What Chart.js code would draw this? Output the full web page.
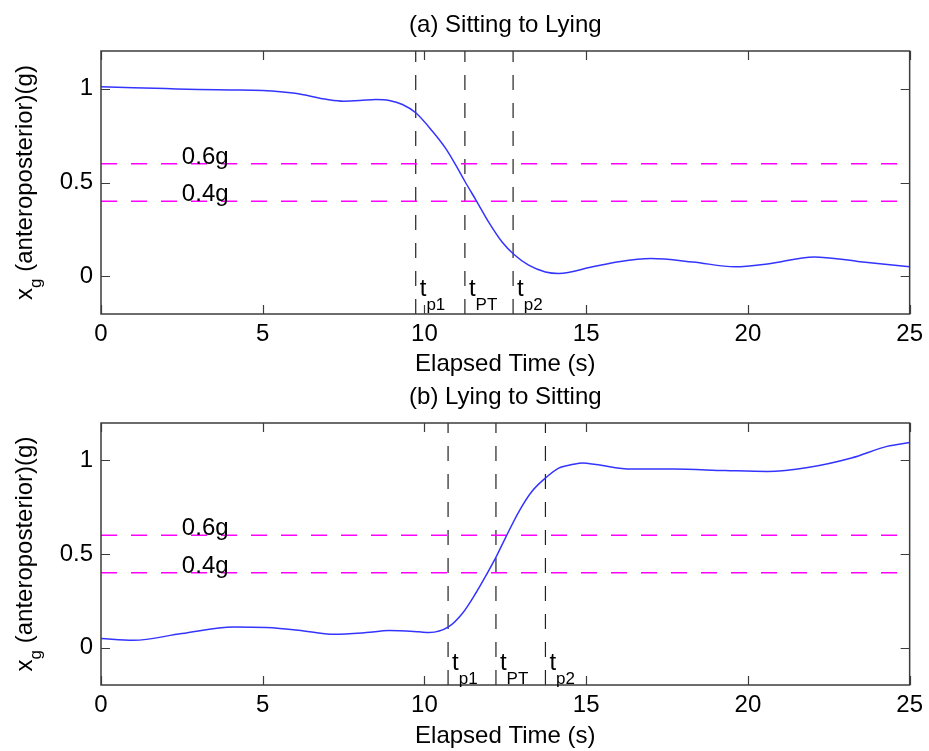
<!DOCTYPE html>
<html>
<head>
<meta charset="utf-8">
<script src="https://cdn.jsdelivr.net/npm/chart.js@4.4.1/dist/chart.umd.min.js"></script>
<style>
body { margin: 0; background: #fff; }
#wrap { position: relative; width: 929px; height: 751px; }
canvas { position: absolute; left: 0; }
</style>
</head>
<body>
<div id="wrap">
<canvas id="chartA" width="929" height="380" style="top:0px"></canvas>
<canvas id="chartB" width="929" height="379" style="top:372px"></canvas>
</div>
<script>
// (a) Sitting to Lying
var timeA = [0, 1, 2, 3, 4, 5, 6, 7, 7.5, 8, 8.5, 8.91, 9.32, 9.73, 10.24, 10.66, 10.96, 11.27, 11.6, 12.0, 12.4, 12.76, 13.22, 13.74, 14.15, 15.2, 16, 17, 18.3, 19.6, 20.6, 22.05, 23.4, 25]
var accA = [1.01, 1.005, 1.0, 0.995, 0.993, 0.99, 0.975, 0.942, 0.933, 0.936, 0.942, 0.937, 0.915, 0.871, 0.774, 0.68, 0.595, 0.5, 0.404, 0.285, 0.183, 0.118, 0.06, 0.024, 0.016, 0.051, 0.078, 0.095, 0.077, 0.051, 0.066, 0.104, 0.08, 0.051]
var eventsA = [9.73, 11.25, 12.74]

// (b) Lying to Sitting
var timeB = [0, 1, 2.5, 4.1, 5.1, 6.1, 7.2, 8.2, 8.9, 9.83, 10.15, 10.74, 11.17, 11.58, 11.94, 12.22, 12.5, 12.92, 13.32, 13.74, 14.15, 14.6, 14.9, 15.3, 16.4, 17.7, 19.3, 20.6, 21.85, 23.2, 24.3, 25]
var accB = [0.048, 0.039, 0.075, 0.11, 0.107, 0.093, 0.071, 0.08, 0.091, 0.084, 0.08, 0.11, 0.182, 0.289, 0.397, 0.486, 0.585, 0.727, 0.834, 0.906, 0.959, 0.979, 0.986, 0.978, 0.954, 0.954, 0.946, 0.941, 0.962, 1.013, 1.075, 1.096]
var eventsB = [10.73, 12.21, 13.74]

var eventNames = ['p1', 'PT', 'p2']
var thresholds = [0.6, 0.4]
var thresholdLabels = ['0.6g', '0.4g']
var thresholdLabelX = 2.5
var yTicks = [0, 0.5, 1]
var yTickLabels = ['0', '0.5', '1']
var xMin = 0, xMax = 25, yMin = -0.2, yMax = 1.2

var FONT = '"Liberation Sans", Arial, Helvetica, sans-serif'

function decor(title, events, tLabelY) {
    return {
        id: 'decor',
        afterDraw: function(chart) {
            var ctx = chart.ctx, a = chart.chartArea
            var sx = chart.scales.x, sy = chart.scales.y
            ctx.save()
            // caixa e ticks para dentro
            ctx.strokeStyle = '#3c3c3c'
            ctx.lineWidth = 1.5
            ctx.strokeRect(a.left, a.top, a.right - a.left, a.bottom - a.top)
            ctx.lineWidth = 1.2
            ctx.beginPath()
            sx.ticks.forEach(function(t) {
                var px = Math.round(sx.getPixelForValue(t.value)) + 0.5
                ctx.moveTo(px, a.bottom); ctx.lineTo(px, a.bottom - 9)
                ctx.moveTo(px, a.top); ctx.lineTo(px, a.top + 9)
            })
            sy.ticks.forEach(function(t) {
                var py = Math.round(sy.getPixelForValue(t.value)) + 0.5
                ctx.moveTo(a.left, py); ctx.lineTo(a.left + 9, py)
                ctx.moveTo(a.right, py); ctx.lineTo(a.right - 9, py)
            })
            ctx.stroke()

            ctx.fillStyle = '#000'
            ctx.textBaseline = 'alphabetic'
            var cx = (a.left + a.right) / 2

            // titulo e eixo x
            ctx.font = '24px ' + FONT
            ctx.textAlign = 'center'
            ctx.fillText(title, cx, 32)
            ctx.fillText('Elapsed Time (s)', cx, 371)

            // eixo y: x_g (anteroposterior)(g)
            ctx.textAlign = 'left'
            ctx.save()
            ctx.translate(32, (a.top + a.bottom) / 2)
            ctx.rotate(-Math.PI / 2)
            ctx.font = '24px ' + FONT
            var wx = ctx.measureText('x').width
            var rest = ' (anteroposterior)(g)'
            var wr = ctx.measureText(rest).width
            ctx.font = '17px ' + FONT
            var wg = ctx.measureText('g').width
            var start = -(wx + wg + wr) / 2
            ctx.font = '24px ' + FONT
            ctx.fillText('x', start, 0)
            ctx.fillText(rest, start + wx + wg, 0)
            ctx.font = '17px ' + FONT
            ctx.fillText('g', start + wx, 9)
            ctx.restore()

            // rotulos 0.6g / 0.4g
            ctx.font = '24px ' + FONT
            thresholds.forEach(function(v, i) {
                ctx.fillText(thresholdLabels[i], sx.getPixelForValue(thresholdLabelX), sy.getPixelForValue(v))
            })

            // t_p1, t_PT, t_p2
            var ty = sy.getPixelForValue(tLabelY)
            events.forEach(function(e, i) {
                var px = sx.getPixelForValue(e) + 4
                ctx.font = '24px ' + FONT
                ctx.fillText('t', px, ty)
                var wt = ctx.measureText('t').width
                ctx.font = '17px ' + FONT
                ctx.fillText(eventNames[i], px + wt, ty + 14)
            })
            ctx.restore()
        }
    }
}

function makeChart(id, title, times, vals, events, tLabelY) {
    var datasets = [{
        data: times.map(function(t, i) { return {x: t, y: vals[i]} }),
        borderColor: '#3434ff',
        borderWidth: 1.5,
        pointRadius: 0,
        cubicInterpolationMode: 'monotone'
    }]
    thresholds.forEach(function(v) {
        datasets.push({
            data: [{x: xMin, y: v}, {x: xMax, y: v}],
            borderColor: '#ff00ff',
            borderWidth: 1.5,
            borderDash: [16, 14],
            pointRadius: 0
        })
    })
    events.forEach(function(e) {
        datasets.push({
            data: [{x: e, y: yMin}, {x: e, y: yMax}],
            borderColor: '#222',
            borderWidth: 1.2,
            borderDash: [15, 13],
            pointRadius: 0
        })
    })

    var tickFont = {family: FONT, size: 24}
    return new Chart(document.getElementById(id), {
        type: 'line',
        data: {datasets: datasets},
        options: {
            responsive: false,
            animation: false,
            layout: {padding: {top: 51, right: 17, left: 0, bottom: 0}},
            plugins: {legend: {display: false}, tooltip: {enabled: false}},
            scales: {
                x: {
                    type: 'linear', min: xMin, max: xMax,
                    ticks: {stepSize: 5, color: '#000', font: tickFont, padding: 6, maxRotation: 0},
                    grid: {display: false, drawTicks: false},
                    border: {display: false},
                    afterFit: function(s) { s.height = 66 }
                },
                y: {
                    type: 'linear', min: yMin, max: yMax,
                    afterBuildTicks: function(s) { s.ticks = yTicks.map(function(v) { return {value: v} }) },
                    ticks: {
                        color: '#000', font: tickFont, padding: 8,
                        callback: function(v, i) { return yTickLabels[i] }
                    },
                    grid: {display: false, drawTicks: false},
                    border: {display: false},
                    afterFit: function(s) { s.width = 101 }
                }
            }
        },
        plugins: [decor(title, events, tLabelY)]
    })
}

makeChart('chartA', '(a) Sitting to Lying', timeA, accA, eventsA, -0.105)
makeChart('chartB', '(b) Lying to Sitting', timeB, accB, eventsB, -0.12)
</script>
</body>
</html>
